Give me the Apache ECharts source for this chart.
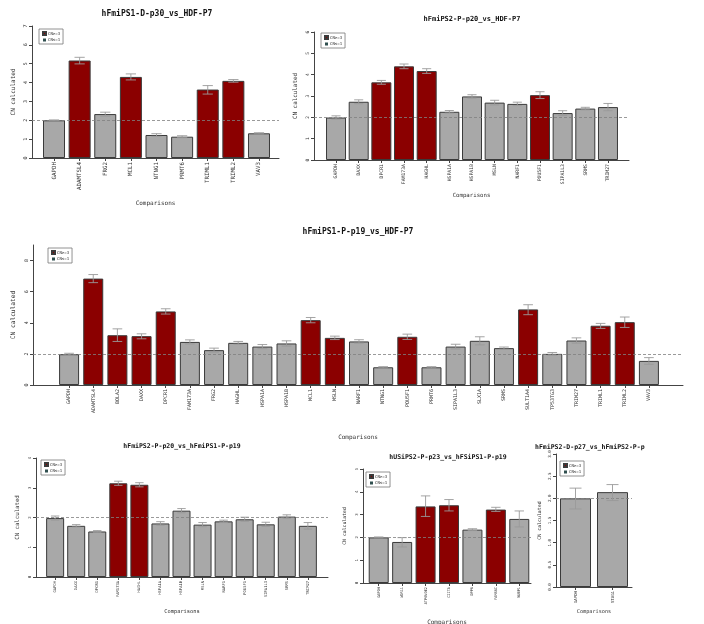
<!DOCTYPE html>
<html><head><meta charset="utf-8">
<script src="https://cdn.jsdelivr.net/npm/echarts@6/dist/echarts.min.js"></script>
<style>html,body{margin:0;padding:0;background:#fff}#c{width:704px;height:624px}</style>
</head><body><div id="c"></div>
<script>
// ---------- data ----------
const refCN = 2;
const legendNames = ['CN>=3', 'CN<=1'];

const p1Title = 'hFmiPS1-D-p30_vs_HDF-P7';
const p1Genes = ['GAPDH','ADAMTSL4','FRG2','MCL1','NTNG1','PRMT6','TRIML1','TRIML2','VAV3'];
const p1CN    = [2.00, 5.17, 2.33, 4.30, 1.22, 1.13, 3.63, 4.09, 1.31];
const p1Lo    = [1.98, 4.99, 2.22, 4.14, 1.15, 1.08, 3.39, 4.02, 1.28];
const p1Hi    = [2.02, 5.34, 2.43, 4.46, 1.29, 1.18, 3.84, 4.16, 1.34];
const p1Gain  = [0, 1, 0, 1, 0, 0, 1, 1, 0];
const p1Ticks = [0, 1, 2, 3, 4, 5, 6, 7];

const p2Title = 'hFmiPS2-P-p20_vs_HDF-P7';
const p2Genes = ['GAPDH','DAXX','DPCR1','FAM173A','HAGHL','HSPA1A','HSPA1B','MSLN','NARF1','POU5F1','SIPA1L3','SRMS','TRIM27'];
const p2CN    = [1.99, 2.73, 3.64, 4.39, 4.17, 2.26, 2.98, 2.69, 2.63, 3.04, 2.20, 2.41, 2.48];
const p2Lo    = [1.91, 2.64, 3.55, 4.28, 4.06, 2.20, 2.90, 2.58, 2.55, 2.88, 2.09, 2.35, 2.31];
const p2Hi    = [2.07, 2.82, 3.73, 4.50, 4.28, 2.32, 3.06, 2.80, 2.71, 3.20, 2.31, 2.47, 2.65];
const p2Gain  = [0, 0, 1, 1, 1, 0, 0, 0, 0, 1, 0, 0, 0];
const p2Ticks = [0, 1, 2, 3, 4, 5, 6];

const p3Title = 'hFmiPS1-P-p19_vs_HDF-P7';
const p3Genes = ['GAPDH','ADAMTSL4','BOLA2','DAXX','DPCR1','FAM173A','FRG2','HAGHL','HSPA1A','HSPA1B','MCL1','MSLN','NARF1','NTNG1','POU5F1','PRMT6','SIPA1L3','SLX1A','SRMS','SULT1A4','TP53TG3','TRIM27','TRIML1','TRIML2','VAV3'];
const p3CN    = [1.98, 6.84, 3.20, 3.14, 4.73, 2.77, 2.24, 2.71, 2.47, 2.67, 4.17, 3.03, 2.80, 1.14, 3.10, 1.14, 2.47, 2.84, 2.37, 4.86, 2.00, 2.86, 3.81, 4.04, 1.55];
const p3Lo    = [1.92, 6.58, 2.80, 2.97, 4.56, 2.64, 2.11, 2.62, 2.34, 2.50, 4.00, 2.92, 2.69, 1.10, 2.93, 1.10, 2.32, 2.58, 2.30, 4.52, 1.91, 2.69, 3.64, 3.70, 1.33];
const p3Hi    = [2.04, 7.10, 3.61, 3.29, 4.90, 2.90, 2.37, 2.80, 2.60, 2.84, 4.34, 3.14, 2.91, 1.18, 3.27, 1.18, 2.62, 3.10, 2.44, 5.16, 2.09, 3.03, 3.96, 4.37, 1.76];
const p3Gain  = [0, 1, 1, 1, 1, 0, 0, 0, 0, 0, 1, 1, 0, 0, 1, 0, 0, 0, 0, 1, 0, 0, 1, 1, 0];
const p3Ticks = [0, 2, 4, 6, 8];

const p4Title = 'hFmiPS2-P-p20_vs_hFmiPS1-P-p19';
const p4Genes = ['GAPDH','DAXX','DPCR1','FAM173A','HAGHL','HSPA1A','HSPA1B','MSLN','NARF1','POU5F1','SIPA1L3','SRMS','TRIM27'];
const p4CN    = [1.98, 1.72, 1.53, 3.15, 3.10, 1.80, 2.23, 1.76, 1.87, 1.94, 1.77, 2.03, 1.72];
const p4Lo    = [1.91, 1.68, 1.50, 3.08, 3.03, 1.74, 2.16, 1.69, 1.83, 1.87, 1.70, 1.97, 1.61];
const p4Hi    = [2.05, 1.76, 1.56, 3.22, 3.17, 1.86, 2.30, 1.83, 1.91, 2.01, 1.84, 2.09, 1.83];
const p4Gain  = [0, 0, 0, 1, 1, 0, 0, 0, 0, 0, 0, 0, 0];
const p4Ticks = [0, 1, 2, 3, 4];

const p5Title = 'hUSiPS2-P-p23_vs_hFSiPS1-P-p19';
const p5Genes = ['GAPDH','WDR11','ATP6V0E2','CIITA','DPP6','FAM86C','NUBP1'];
const p5CN    = [2.00, 1.80, 3.36, 3.41, 2.34, 3.22, 2.81];
const p5Lo    = [1.98, 1.58, 2.92, 3.16, 2.30, 3.14, 2.46];
const p5Hi    = [2.02, 1.99, 3.82, 3.66, 2.38, 3.32, 3.16];
const p5Gain  = [0, 0, 1, 1, 0, 1, 0];
const p5Ticks = [0, 1, 2, 3, 4, 5];

const p6Title = 'hFmiPS2-D-p27_vs_hFmiPS2-P-p20';
const p6Genes = ['GAPDH','STAG1'];
const p6CN    = [2.00, 2.14];
const p6Lo    = [1.76, 1.95];
const p6Hi    = [2.23, 2.31];
const p6Gain  = [0, 0];
const p6Ticks = [0, 0.5, 1, 1.5, 2, 2.5, 3];

// ---------- layout (positions / styles only) ----------
const panels = [
  {title:p1Title, genes:p1Genes, cn:p1CN, lo:p1Lo, hi:p1Hi, gain:p1Gain, ticks:p1Ticks},
  {title:p2Title, genes:p2Genes, cn:p2CN, lo:p2Lo, hi:p2Hi, gain:p2Gain, ticks:p2Ticks},
  {title:p3Title, genes:p3Genes, cn:p3CN, lo:p3Lo, hi:p3Hi, gain:p3Gain, ticks:p3Ticks},
  {title:p4Title, genes:p4Genes, cn:p4CN, lo:p4Lo, hi:p4Hi, gain:p4Gain, ticks:p4Ticks},
  {title:p5Title, genes:p5Genes, cn:p5CN, lo:p5Lo, hi:p5Hi, gain:p5Gain, ticks:p5Ticks},
  {title:p6Title, genes:p6Genes, cn:p6CN, lo:p6Lo, hi:p6Hi, gain:p6Gain, ticks:p6Ticks}
];
const layout = [
  {ax:32,  right:279, top:26,  bottom:158, bandL:41.2, bandR:271.8, barW:22, ymax:7, catFont:5.8, tickFont:5, nameFont:6,   yNameFont:6,   titleX:157, titleY:14,  titleFont:8,   xGap:42, yGap:16, leg:[39,29],  dec:0},
  {ax:314, right:629, top:32,  bottom:160, bandL:324.7,bandR:619.3, barW:20, ymax:6, catFont:4.8, tickFont:4.6, nameFont:5.7, yNameFont:5.9, titleX:472, titleY:19,  titleFont:7,   xGap:33, yGap:16, leg:[321,33], dec:0},
  {ax:33,  right:683, top:245, bottom:385, bandL:57,   bandR:661,   barW:20, ymax:9, catFont:5,   tickFont:5,   nameFont:6,   yNameFont:6.2, titleX:358, titleY:232, titleFont:8,   xGap:49, yGap:17, leg:[48,248], dec:0},
  {ax:36,  right:328, top:458, bottom:577, bandL:44.6, bandR:318.4, barW:18, ymax:4, catFont:3.8, tickFont:4,   nameFont:5.4, yNameFont:5.7, titleX:182, titleY:446, titleFont:6.5, xGap:32, yGap:15, leg:[41,460], dec:0},
  {ax:363, right:531, top:469, bottom:583, bandL:367,  bandR:531,   barW:20, ymax:5, catFont:3.6, tickFont:4,   nameFont:6,   yNameFont:4.8, titleX:448, titleY:457, titleFont:6.5, xGap:36, yGap:16, leg:[366,472], dec:0},
  {ax:556, right:632, top:454, bottom:587, bandL:557,  bandR:631,   barW:31, ymax:3, catFont:4,   tickFont:4.2, nameFont:5.2, yNameFont:4.9, titleX:535, titleY:447, titleFont:6.5, xGap:22, yGap:14, leg:[560,461], dec:1, leftTitle:true, titleW:113}
];

const MONO = '"DejaVu Sans Mono", monospace';
const RED = '#8B0000', GRAY = '#A8A8A8', EDGE = '#3a3a3a', AXIS = '#444', TXT = '#333';

const option = {
  backgroundColor: '#fff',
  animation: false,
  grid: [], xAxis: [], yAxis: [], series: [], legend: [], graphic: []
};

panels.forEach((p, i) => {
  const L = layout[i];
  const h = L.bottom - L.top;
  const fi = 2 * i, mi = 2 * i + 1;
  option.grid.push({left: L.ax, top: L.top, width: L.right - L.ax, height: h, containLabel: false, outerBoundsMode: 'none'});
  option.grid.push({left: L.bandL, top: L.top, width: L.bandR - L.bandL, height: h, containLabel: false, outerBoundsMode: 'none'});

  option.xAxis.push({
    type: 'value', gridIndex: fi, min: 0, max: 1,
    axisLine: {show: true, lineStyle: {color: AXIS, width: 1}},
    axisTick: {show: false}, axisLabel: {show: false}, splitLine: {show: false},
    name: 'Comparisons', nameLocation: 'middle', nameGap: L.xGap,
    nameTextStyle: {fontFamily: MONO, fontSize: L.nameFont, color: TXT}
  });
  option.xAxis.push({
    type: 'category', gridIndex: mi, data: p.genes, boundaryGap: true,
    axisLine: {show: false},
    axisTick: {show: true, alignWithLabel: true, length: 3, lineStyle: {color: AXIS}},
    axisLabel: {rotate: 90, interval: 0, fontSize: L.catFont, fontFamily: MONO, color: TXT, margin: 4},
    splitLine: {show: false}
  });
  option.yAxis.push({
    type: 'value', gridIndex: fi, min: 0, max: L.ymax, interval: p.ticks[1] - p.ticks[0],
    axisLine: {show: true, lineStyle: {color: AXIS, width: 1}},
    axisTick: {show: true, length: 3, lineStyle: {color: AXIS}, customValues: p.ticks},
    axisLabel: {rotate: 90, fontSize: L.tickFont, fontFamily: MONO, color: TXT, margin: 4,
      customValues: p.ticks, formatter: v => Number(v).toFixed(L.dec)},
    splitLine: {show: false},
    name: 'CN calculated', nameLocation: 'middle', nameRotate: 90, nameGap: L.yGap,
    nameTextStyle: {fontFamily: MONO, fontSize: L.yNameFont, color: TXT}
  });
  option.yAxis.push({type: 'value', gridIndex: mi, min: 0, max: L.ymax, show: false, splitLine: {show: false}});

  option.series.push({
    type: 'line', name: 'CN<=1', xAxisIndex: fi, yAxisIndex: fi, data: [],
    itemStyle: {color: '#2F4F4F'}, lineStyle: {color: '#2F4F4F'}, symbol: 'rect',
    markLine: {silent: true, symbol: ['none', 'none'], label: {show: false},
      lineStyle: {color: '#808080', type: [3, 2], width: 0.8}, data: [{yAxis: refCN}]}
  });
  option.series.push({
    type: 'bar', name: 'CN>=3', xAxisIndex: mi, yAxisIndex: mi, barWidth: L.barW, barGap: '-100%',
    data: p.cn.map((v, k) => p.gain[k] ? v : '-'),
    itemStyle: {color: RED, borderColor: EDGE, borderWidth: 1}
  });
  option.series.push({
    type: 'bar', name: 'CN', xAxisIndex: mi, yAxisIndex: mi, barWidth: L.barW, barGap: '-100%',
    data: p.cn.map((v, k) => p.gain[k] ? '-' : v),
    itemStyle: {color: GRAY, borderColor: EDGE, borderWidth: 1}
  });
  option.series.push({
    type: 'custom', name: 'err', xAxisIndex: mi, yAxisIndex: mi, z: 5,
    data: p.genes.map((g, k) => [k, p.lo[k], p.hi[k]]),
    encode: {x: 0, y: [1, 2]},
    renderItem: (params, api) => {
      const x = api.value(0);
      const a = api.coord([x, api.value(2)]);
      const b = api.coord([x, api.value(1)]);
      const hw = Math.min(api.size([1, 0])[0] * 0.2, 6);
      const st = {stroke: '#9a9a9a', lineWidth: 0.9};
      return {type: 'group', children: [
        {type: 'line', shape: {x1: a[0], y1: a[1], x2: b[0], y2: b[1]}, style: st},
        {type: 'line', shape: {x1: a[0] - hw, y1: a[1], x2: a[0] + hw, y2: a[1]}, style: st},
        {type: 'line', shape: {x1: b[0] - hw, y1: b[1], x2: b[0] + hw, y2: b[1]}, style: st}
      ]};
    }
  });

  option.legend.push({
    data: legendNames.map(n => ({name: n, icon: 'rect'})),
    orient: 'vertical', left: L.leg[0], top: L.leg[1],
    itemWidth: 3, itemHeight: 3, itemGap: 2, padding: [2, 3, 2, 3],
    borderColor: '#777', borderWidth: 0.8, selectedMode: false,
    textStyle: {fontSize: 4, fontFamily: MONO, color: TXT, padding: [0, 0, 0, -3]}
  });

  const tstyle = {text: p.title, fill: '#111', font: 'bold ' + L.titleFont + 'px ' + MONO,
    align: L.leftTitle ? 'left' : 'center', verticalAlign: 'middle'};
  if (L.leftTitle) { tstyle.width = L.titleW; tstyle.overflow = 'truncate'; tstyle.ellipsis = ''; }
  option.graphic.push({type: 'text', x: L.titleX, y: L.titleY, style: tstyle, silent: true});
});

const chart = echarts.init(document.getElementById('c'), null, {renderer: 'canvas'});
chart.setOption(option);
</script>
</body></html>
